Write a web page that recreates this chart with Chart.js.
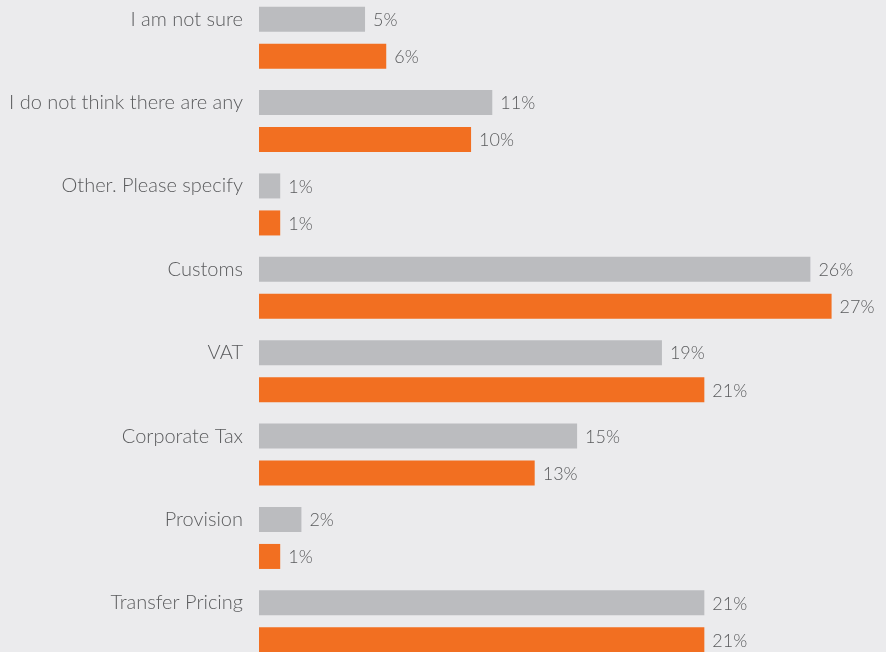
<!DOCTYPE html>
<html>
<head>
<meta charset="utf-8">
<script src="https://cdn.jsdelivr.net/npm/chart.js@4"></script>
<style>
  html, body { margin: 0; padding: 0; background: #ebebed; overflow: hidden; }
  body { width: 886px; height: 652px; position: relative; }
  #wrap { position: absolute; left: 0; top: -4px; width: 886px; height: 667px; }
</style>
</head>
<body>
<div id="wrap"><canvas id="taxChart"></canvas></div>
<script>
// categories and the two series (percent)
const categories = ['I am not sure', 'I do not think there are any', 'Other. Please specify', 'Customs', 'VAT', 'Corporate Tax', 'Provision', 'Transfer Pricing'];
const greyValues = [5, 11, 1, 26, 19, 15, 2, 21];
const orangeValues = [6, 10, 1, 27, 21, 13, 1, 21];

const textColor = '#5a5b5d';
const fontFamily = 'Lato, "Open Sans", sans-serif';

// writes the percent next to the end of every bar
const valueLabels = {
    id: 'valueLabels',
    afterDatasetsDraw(chart) {
        const ctx = chart.ctx;
        ctx.save();
        ctx.font = '300 18px ' + fontFamily;
        ctx.fillStyle = textColor;
        ctx.textAlign = 'left';
        ctx.textBaseline = 'middle';
        chart.data.datasets.forEach((ds, i) => {
            chart.getDatasetMeta(i).data.forEach((bar, j) => {
                ctx.fillText(ds.data[j] + '%', bar.x + 8, bar.y + 1);
            });
        });
        ctx.restore();
    }
};

const ctx = document.getElementById('taxChart').getContext('2d');

const taxChart = new Chart(ctx, {
    type: 'bar',
    data: {
        labels: categories,
        datasets: [{
            data: greyValues,
            backgroundColor: '#bbbcbf',
            categoryPercentage: 0.888,
            barPercentage: 0.676
        }, {
            data: orangeValues,
            backgroundColor: '#f26f21',
            categoryPercentage: 0.888,
            barPercentage: 0.676
        }]
    },
    options: {
        indexAxis: 'y',
        responsive: true,
        maintainAspectRatio: false,
        animation: false,
        layout: { padding: { left: 0, right: 12, top: 0, bottom: 0 } },
        plugins: {
            legend: { display: false },
            tooltip: { enabled: false }
        },
        scales: {
            x: {
                display: false,
                min: 0,
                max: 29
            },
            y: {
                grid: { display: false, drawTicks: false },
                border: { display: false },
                afterFit(scale) {
                    scale.width = 259;
                    // no extra room above/below for the labels
                    scale.paddingTop = 0;
                    scale.paddingBottom = 0;
                },
                ticks: {
                    color: textColor,
                    padding: 16,
                    labelOffset: -18.5,
                    font: { family: fontFamily, size: 20, weight: '300' }
                }
            }
        }
    },
    plugins: [valueLabels]
});
</script>
</body>
</html>
